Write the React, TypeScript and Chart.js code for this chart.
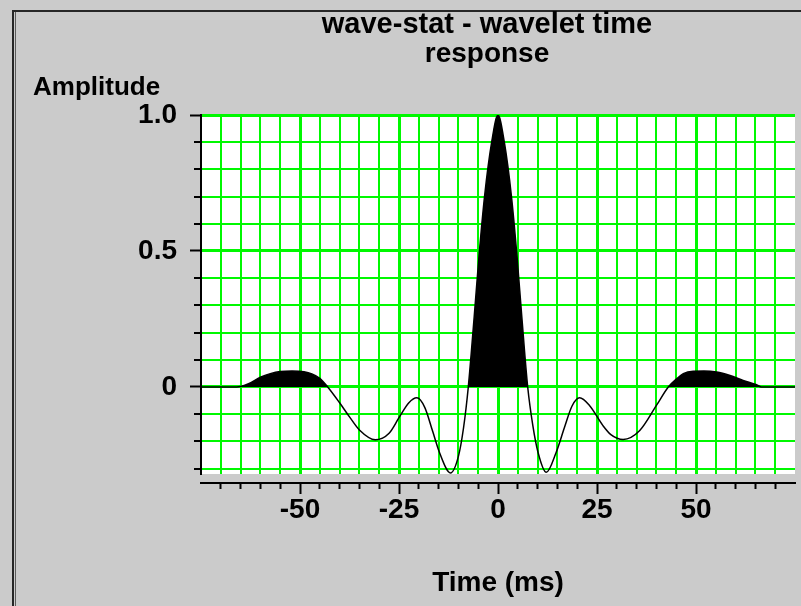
import { useEffect, useRef } from 'react';
import { Chart, registerables } from 'chart.js';

Chart.register(...registerables);

const titleLines = ['wave-stat - wavelet time', 'response'];
const yAxisLabel = 'Amplitude';
const xAxisLabel = 'Time (ms)';

// Time samples (ms) and wavelet amplitude
const timesMs = [
  -75, -66, -63, -60, -57.5, -55, -52, -49, -47, -45, -43, -40, -37.5, -35, -31,
  -27.5, -25, -22.5, -20.5, -18.5, -16.5, -14.8, -12, -10, -8.7, -7.5, -6, -4.8,
  -3.4, -1.6, 0, 1.6, 3.4, 4.8, 6, 7.5, 8.8, 10.1, 12.2, 14.7, 16.8, 18.7, 20.6,
  23.1, 26.5, 28.5, 31.6, 35.8, 40, 43, 45.1, 46.8, 49.3, 52, 55.2, 58.6, 61.9,
  65.3, 66.5, 75,
];
const amplitudes = [
  0, 0, 0.012, 0.036, 0.049, 0.057, 0.059, 0.056, 0.048, 0.032, 0, -0.058, -0.11,
  -0.158, -0.194, -0.17, -0.113, -0.058, -0.04, -0.075, -0.163, -0.24, -0.316,
  -0.255, -0.15, 0, 0.26, 0.48, 0.7, 0.9, 1.0, 0.9, 0.7, 0.48, 0.26, 0, -0.142,
  -0.24, -0.314, -0.24, -0.148, -0.07, -0.04, -0.068, -0.142, -0.175, -0.193,
  -0.16, -0.068, 0, 0.03, 0.049, 0.058, 0.059, 0.055, 0.042, 0.024, 0.008, 0, 0,
];

const xLabelledTicks = [-50, -25, 0, 25, 50];
const yLabelledTicks = [0, 0.5, 1.0];

const FONT = "'Liberation Sans', Arial, Helvetica, sans-serif";
const GREEN = '#00f800';

const framePlugin = {
  id: 'frame',
  beforeDraw(chart: any) {
    const { ctx, width, height, chartArea } = chart;
    ctx.save();
    ctx.fillStyle = '#cbcbcb';
    ctx.fillRect(0, 0, width, height);
    ctx.fillStyle = '#ffffff';
    ctx.fillRect(chartArea.left, chartArea.top, chartArea.right - chartArea.left, chartArea.bottom - chartArea.top);
    ctx.fillStyle = '#262626';
    ctx.fillRect(12, 10, 789, 2);
    ctx.fillRect(12, 10, 2, height - 10);
    ctx.fillStyle = '#5a5a5a';
    ctx.fillRect(15, 12, 1, height - 12);
    ctx.restore();
  },
  afterDraw(chart: any) {
    const { ctx } = chart;
    ctx.save();
    ctx.fillStyle = '#000';
    ctx.textBaseline = 'alphabetic';
    ctx.font = `bold 29px ${FONT}`;
    ctx.textAlign = 'center';
    ctx.fillText(titleLines[0], 487, 33);
    ctx.font = `bold 28px ${FONT}`;
    ctx.fillText(titleLines[1], 487, 62);
    ctx.font = `bold 26px ${FONT}`;
    ctx.textAlign = 'left';
    ctx.fillText(yAxisLabel, 33, 95);
    ctx.restore();
  },
};

const isNear = (v: number, list: number[]) => list.some((m) => Math.abs(v - m) < 1e-6);

export default function App() {
  const canvasRef = useRef<HTMLCanvasElement | null>(null);

  useEffect(() => {
    const canvas = canvasRef.current;
    if (!canvas) return;
    const points = timesMs.map((t, i) => ({ x: t, y: amplitudes[i] }));
    const tickFont = { family: FONT, size: 28, weight: 'bold' as const, lineHeight: 1 };

    const chart = new Chart(canvas, {
      type: 'line',
      data: {
        datasets: [
          {
            data: points,
            borderColor: '#000',
            borderWidth: 1.5,
            pointRadius: 0,
            cubicInterpolationMode: 'monotone',
            fill: { target: 'origin', above: '#000', below: 'rgba(0,0,0,0)' },
            xAxisID: 'x',
            yAxisID: 'y',
          } as any,
        ],
      },
      options: {
        responsive: false,
        animation: false,
        layout: { padding: { left: 0, right: 6, top: 115, bottom: 9 } },
        plugins: {
          legend: { display: false },
          tooltip: { enabled: false },
          title: { display: false },
        },
        scales: {
          x: {
            type: 'linear',
            position: 'bottom',
            weight: 0,
            min: -75,
            max: 75,
            ticks: { display: false, stepSize: 5, autoSkip: false },
            border: { display: false },
            grid: {
              color: (c: any) => (Math.abs(Math.abs(c.tick.value) - 75) < 1e-6 ? 'rgba(0,0,0,0)' : GREEN),
              lineWidth: (c: any) => (isNear(c.tick.value, xLabelledTicks) ? 3 : 2),
              drawTicks: true,
              tickLength: 9,
              tickColor: 'rgba(0,0,0,0)',
            },
          },
          x2: {
            type: 'linear',
            position: 'bottom',
            weight: 1,
            min: -75,
            max: 75,
            ticks: {
              stepSize: 5,
              autoSkip: false,
              maxRotation: 0,
              padding: 2,
              color: '#000',
              font: tickFont,
              callback: (v: any) => {
                const r = Math.round(Number(v));
                return isNear(r, xLabelledTicks) ? String(r) : '';
              },
            },
            border: { display: true, color: '#000', width: 2 },
            grid: {
              drawOnChartArea: false,
              drawTicks: true,
              tickLength: 11,
              tickWidth: 2,
              tickColor: (c: any) => (Math.abs(Math.abs(c.tick.value) - 75) < 1e-6 ? 'rgba(0,0,0,0)' : '#000'),
              tickBorderDash: (c: any) => (isNear(c.tick.value, xLabelledTicks) ? [] : [5, 100]),
            },
            title: {
              display: true,
              text: xAxisLabel,
              color: '#000',
              font: { family: FONT, size: 28, weight: 'bold', lineHeight: 1 },
              padding: { top: 43, bottom: 0 },
            },
          },
          y: {
            type: 'linear',
            position: 'left',
            min: -0.32,
            max: 1.0,
            afterFit: (s: any) => {
              s.width = 201;
            },
            ticks: {
              stepSize: 0.1,
              includeBounds: false,
              autoSkip: false,
              padding: 13,
              color: '#000',
              font: tickFont,
              callback: (v: any) => {
                const r = Math.round(Number(v) * 10) / 10;
                if (!isNear(r, yLabelledTicks)) return '';
                return r === 0 ? '0' : r.toFixed(1);
              },
            },
            border: { display: true, color: '#000', width: 2 },
            grid: {
              color: GREEN,
              lineWidth: (c: any) => (isNear(Math.round(c.tick.value * 10) / 10, yLabelledTicks) ? 3 : 2),
              drawTicks: true,
              tickLength: 11,
              tickWidth: 2,
              tickColor: '#000',
              tickBorderDash: (c: any) =>
                isNear(Math.round(c.tick.value * 10) / 10, yLabelledTicks) ? [] : [0, 4, 7, 100],
            },
          },
        },
      } as any,
      plugins: [framePlugin],
    });

    return () => {
      chart.destroy();
    };
  }, []);

  return (
    <div style={{ position: 'absolute', left: 0, top: 0, width: 801, height: 606 }}>
      <canvas ref={canvasRef} width={801} height={606} style={{ display: 'block', width: 801, height: 606 }} />
    </div>
  );
}
